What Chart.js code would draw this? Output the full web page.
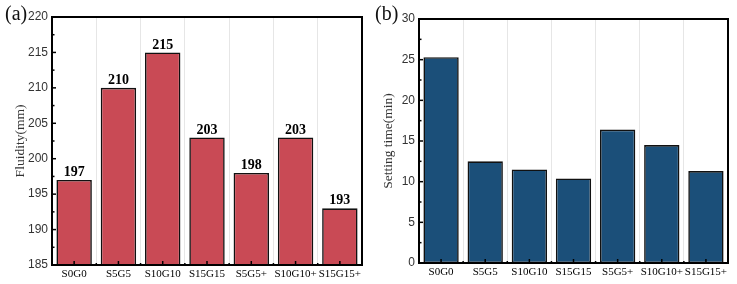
<!DOCTYPE html>
<html><head><meta charset="utf-8">
<script src="https://cdn.jsdelivr.net/npm/chart.js@4"></script>
<style>
html,body{margin:0;padding:0;background:#fff;}
#wrap{position:relative;width:737px;height:284px;}
#c1{position:absolute;left:0;top:0;}
#c2{position:absolute;left:368px;top:0;}
.lab{position:absolute;font-family:"Liberation Serif",serif;font-size:20px;color:#111;}
</style></head>
<body>
<div id="wrap">
<canvas id="c1" width="368" height="284" style="width:368px;height:284px"></canvas>
<canvas id="c2" width="369" height="284" style="width:369px;height:284px"></canvas>
<div class="lab" style="left:5px;top:2px;">(a)</div>
<div class="lab" style="left:375px;top:2px;">(b)</div>
</div>
<script>
const categories = ["S0G0","S5G5","S10G10","S15G15","S5G5+","S10G10+","S15G15+"];
const fluidity = [197,210,215,203,198,203,193];
const settingTime = [25.3,12.5,11.5,10.4,16.4,14.5,11.3];
const fluidityTicks = [185,190,195,200,205,210,215,220];
const settingTicks = [0,5,10,15,20,25,30];

Chart.defaults.animation = false;
Chart.defaults.devicePixelRatio = 1;

const framePlugin = {
  id:'frame',
  afterDatasetsDraw(chart, args, opts){
    const ctx = chart.ctx, a = chart.chartArea;
    const ys = chart.scales.y, xs = chart.scales.x;
    ctx.save();
    ctx.strokeStyle = '#000';
    ctx.lineWidth = 1.5;
    const step = opts.step;
    for (let v = ys.min; v <= ys.max + 1e-9; v += step/2) {
      const py = ys.getPixelForValue(v);
      const major = Math.abs((v - ys.min) % step) < 1e-6;
      ctx.beginPath();
      ctx.moveTo(a.left, py);
      ctx.lineTo(a.left + (major ? 4 : 2.5), py);
      ctx.stroke();
    }
    const n = chart.data.labels.length;
    for (let i = 0; i < n; i++) {
      const px = xs.getPixelForValue(i);
      ctx.beginPath();
      ctx.moveTo(px, a.bottom);
      ctx.lineTo(px, a.bottom - 4);
      ctx.stroke();
    }
    for (let i = 1; i < n; i++) {
      const px = (xs.getPixelForValue(i-1) + xs.getPixelForValue(i))/2;
      ctx.beginPath();
      ctx.moveTo(px, a.bottom);
      ctx.lineTo(px, a.bottom - 2);
      ctx.stroke();
    }
    ctx.lineWidth = 2;
    ctx.strokeRect(a.left, a.top, a.right - a.left, a.bottom - a.top);
    if (opts.labels) {
      const meta = chart.getDatasetMeta(0);
      ctx.fillStyle = '#000';
      ctx.font = 'bold 14px "Liberation Serif", serif';
      ctx.textAlign = 'center';
      ctx.textBaseline = 'bottom';
      meta.data.forEach((bar, i) => {
        ctx.fillText(String(chart.data.datasets[0].data[i]), bar.x, bar.y - 0.5);
      });
    }
    ctx.restore();
  }
};

function makeChart(id, data, ticks, color, title, pad, yW, xH, step, labels, titlePad) {
  return new Chart(document.getElementById(id), {
    type:'bar',
    data:{labels:categories, datasets:[{data:data, backgroundColor:color, borderColor:'#111', borderWidth:1.6, borderSkipped:false, barPercentage:0.8, categoryPercentage:1.0}]},
    options:{
      responsive:false, maintainAspectRatio:false,
      layout:{padding:pad},
      plugins:{legend:{display:false}, tooltip:{enabled:false}, frame:{step:step, labels:labels}},
      scales:{
        x:{
          offset:true,
          grid:{display:true, offset:true, color:'#e6e6e6', lineWidth:1, drawTicks:false},
          border:{display:false},
          ticks:{color:'#000', font:{family:'"Liberation Serif", serif', size:11}, padding:3, maxRotation:0, autoSkip:false},
          afterFit(s){ s.height = xH; }
        },
        y:{
          min:ticks[0], max:ticks[ticks.length-1],
          afterBuildTicks(s){ s.ticks = ticks.map(v=>({value:v})); },
          grid:{display:false, drawTicks:false},
          border:{display:false},
          ticks:{color:'#333', font:{family:'"Liberation Sans", sans-serif', size:12}, padding:4},
          title:{display:true, text:title, color:'#333', font:{family:'"Liberation Serif", serif', size:13.5}, padding:{top:titlePad,bottom:0}},
          afterFit(s){ s.width = yW; }
        }
      }
    },
    plugins:[framePlugin]
  });
}

makeChart('c1', fluidity, fluidityTicks, '#c94a55', 'Fluidity(mm)', {top:17,right:6,left:0,bottom:0}, 52, 19, 5, true, 12);
makeChart('c2', settingTime, settingTicks, '#1b4f79', 'Setting time(min)', {top:19,right:9,left:0,bottom:0}, 51, 21, 5, false, 12);
</script>
</body></html>
